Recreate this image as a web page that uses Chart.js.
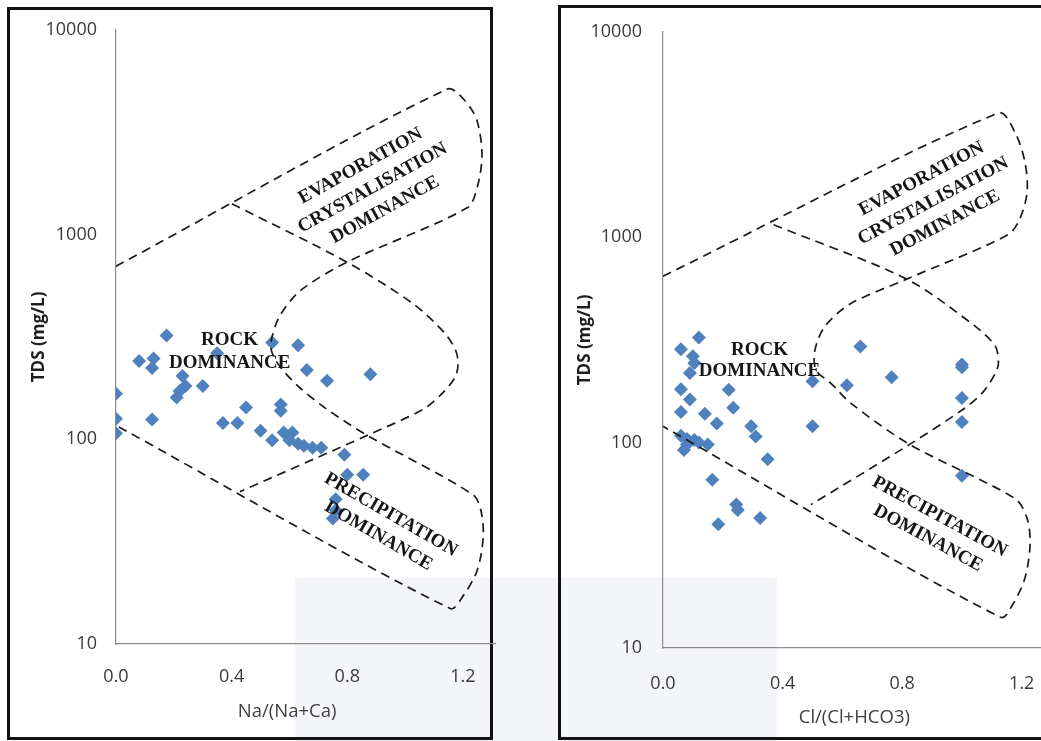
<!DOCTYPE html>
<html><head><meta charset="utf-8">
<script src="https://cdn.jsdelivr.net/npm/chart.js@4.4.1/dist/chart.umd.min.js"></script>
<style>
html,body{margin:0;padding:0;width:1041px;height:741px;overflow:hidden;background:#fff;}
#wm{position:absolute;left:295px;top:578px;width:482px;height:163px;background:#f4f5f9;}
.box{position:absolute;border:3px solid #111;box-sizing:border-box;}
#boxL{left:7px;top:7px;width:486px;height:733px;}
#boxR{left:558px;top:5px;width:520px;height:735px;}
#cL{position:absolute;left:0;top:0;}
#cR{position:absolute;left:520px;top:0;}
</style></head>
<body>
<div id="wm"></div>
<div class="box" id="boxL"></div>
<div class="box" id="boxR"></div>
<canvas id="cL" width="510" height="741" style="width:510px;height:741px"></canvas>
<canvas id="cR" width="540" height="741" style="width:540px;height:741px"></canvas>
<script>
// ---- data: left panel Na/(Na+Ca) vs TDS ----
const naRatio = [0.00,0.00,0.00,0.08,0.13,0.125,0.125,0.175,0.23,0.24,0.22,0.21,0.30,0.35,0.37,0.42,0.45,0.50,0.54,0.54,0.57,0.57,0.58,0.61,0.60,0.63,0.63,0.65,0.66,0.68,0.71,0.73,0.88,0.79,0.80,0.855,0.76,0.75,0.76];
const tdsNa   = [167,126,107,241,248,223,125,321,204,182,172,160,182,263,120,120,143,110,99,297,148,138,108,108,99,95,288,93,218,91,91,193,208,84,67,67,51,41,45];
// ---- data: right panel Cl/(Cl+HCO3) vs TDS ----
const clRatio = [0.06,0.12,0.10,0.105,0.09,0.06,0.09,0.22,0.06,0.14,0.235,0.18,0.295,0.31,0.06,0.08,0.105,0.07,0.15,0.35,0.165,0.245,0.25,0.185,0.325,0.50,0.50,0.615,0.66,0.765,1.0,1.0,1.0,1.0,1.0,0.08,0.12];
const tdsCl   = [285,325,263,244,218,182,162,181,141,138,148,124,120,107,108,98,103,92,98,83,66,50,47,40,43,199,120,190,294,208,240,233,165,126,69,104,100];
// ---- Gibbs boundary curves ----
const outerNaX = [0.0,1.145,1.208,1.249,1.266,1.249,1.215,0.799,0.637,0.567,0.540,0.536,0.550,0.585,0.637,0.730,0.869,1.235,1.263,1.270,1.249,1.201,1.156,0.0];
const outerNaY = [700,5130,4490,3590,2435,1687,1350,733,531,402,318,278,246,211,178,140,104.5,53.6,44.4,32.9,22.8,17.2,14.9,117];
const crossNaX = [0.401,0.799,1.028,1.138,1.176,1.183,1.173,1.131,1.062,0.869,0.429];
const crossNaY = [1412,733,459,329,269,230,201,169,140,104.5,55.5];
const outerClX = [0.0,1.122,1.178,1.211,1.218,1.195,1.155,0.815,0.627,0.541,0.508,0.512,0.561,0.627,0.825,1.178,1.218,1.228,1.211,1.172,1.129,0.0];
const outerClY = [646,4027,3224,2312,1658,1243,1030,625,474,367,281,225,195,156,98,53.3,42.7,32.0,22.0,16.5,14.1,120];
const crossClX = [0.370,0.815,1.046,1.112,1.122,1.112,1.069,1.003,0.825,0.495];
const crossClY = [1150,625,367,294,244,218,175,145,98,49.9];
// ---- ticks ----
const xTicks = [0, 0.4, 0.8, 1.2];
const yTicks = [10, 100, 1000, 10000];

const pts = (xs, ys) => xs.map((v, i) => ({x: v, y: ys[i]}));

const annotPlugin = {
  id: 'annot',
  afterDatasetsDraw(chart, args, opts) {
    const {ctx, scales: {x, y}, chartArea} = chart;
    ctx.save();
    for (const a of opts.items) {
      const px = x.getPixelForValue(a.x), py = y.getPixelForValue(a.y);
      ctx.save();
      ctx.translate(px, py);
      ctx.rotate(a.angle * Math.PI / 180);
      ctx.font = 'bold 19px "Liberation Serif", "Times New Roman", serif';
      ctx.fillStyle = '#161616';
      ctx.textAlign = 'center';
      ctx.textBaseline = 'middle';
      const n = a.lines.length;
      a.lines.forEach((t, i) => ctx.fillText(t, 0, (i - (n - 1) / 2) * a.lh));
      ctx.restore();
    }
    const t = opts.xTitle;
    ctx.font = '18.5px "Open Sans", sans-serif';
    ctx.fillStyle = '#404040';
    ctx.textAlign = 'center';
    ctx.textBaseline = 'middle';
    ctx.fillText(t.text, x.getPixelForValue(t.at), chartArea.bottom + t.below);
    ctx.restore();
  }
};

function makeChart(id, cfg) {
  return new Chart(document.getElementById(id), {
    type: 'scatter',
    data: {
      datasets: [
        {data: pts(cfg.outerX, cfg.outerY), showLine: true, pointRadius: 0, borderColor: '#1a1a1a', borderWidth: 1.7, borderDash: [9, 6], tension: 0.3, fill: false},
        {data: pts(cfg.crossX, cfg.crossY), showLine: true, pointRadius: 0, borderColor: '#1a1a1a', borderWidth: 1.7, borderDash: [9, 6], tension: 0.3, fill: false},
        {data: pts(cfg.px, cfg.py), pointStyle: 'rectRot', pointRadius: 7, pointHoverRadius: 7, backgroundColor: '#4F81BD', borderWidth: 0, showLine: false}
      ]
    },
    options: {
      responsive: false, animation: false,
      layout: {padding: {left: 0, top: cfg.top, right: cfg.right, bottom: 0}},
      plugins: {
        legend: {display: false}, tooltip: {enabled: false},
        annot: {items: cfg.items, xTitle: cfg.xTitle}
      },
      scales: {
        x: {
          type: 'linear', min: 0, max: cfg.xMax,
          afterBuildTicks: s => { s.ticks = xTicks.map(v => ({value: v})); },
          afterFit: s => { s.height = cfg.xH; },
          grid: {display: false, drawTicks: false},
          border: {display: true, color: '#8c8c8c', width: 1.2},
          ticks: {padding: cfg.xPad, color: '#3a3a3a', font: {family: '"Open Sans", sans-serif', size: 18}, callback: v => v.toFixed(1)}
        },
        y: {
          type: 'logarithmic', min: 10, max: 10000,
          afterBuildTicks: s => { s.ticks = yTicks.map(v => ({value: v})); },
          afterFit: s => { s.width = cfg.yW; },
          grid: {display: false, drawTicks: false},
          border: {display: true, color: '#8c8c8c', width: 1.2},
          ticks: {padding: cfg.yPad, color: '#3a3a3a', font: {family: '"Open Sans", sans-serif', size: 18}, callback: v => String(v)},
          title: {display: true, text: 'TDS (mg/L)', color: '#1e1e1e', font: {family: '"Open Sans", sans-serif', size: 17, weight: 'bold'}, padding: {top: cfg.yTitlePad, bottom: 0}}
        }
      }
    },
    plugins: [annotPlugin]
  });
}

makeChart('cL', {
  outerX: outerNaX, outerY: outerNaY, crossX: crossNaX, crossY: crossNaY,
  px: naRatio, py: tdsNa,
  top: 22, right: 15, xMax: 1.311, xH: 97, yW: 116, xPad: 22, yPad: 19, yTitlePad: 29,
  xTitle: {text: 'Na/(Na+Ca)', at: 0.592, below: 68},
  items: [
    {lines: ['ROCK', 'DOMINANCE'], x: 0.393, y: 267.6, angle: 0, lh: 23},
    {lines: ['EVAPORATION', 'CRYSTALISATION', 'DOMINANCE'], x: 0.888, y: 1687, angle: -29, lh: 25},
    {lines: ['PRECIPITATION', 'DOMINANCE'], x: 0.929, y: 38.0, angle: 30, lh: 24.5}
  ]
});

makeChart('cR', {
  outerX: outerClX, outerY: outerClY, crossX: crossClX, crossY: crossClY,
  px: clRatio, py: tdsCl,
  top: 25, right: 10, xMax: 1.277, xH: 93, yW: 143, xPad: 25, yPad: 21, yTitlePad: 55,
  xTitle: {text: 'Cl/(Cl+HCO3)', at: 0.640, below: 70},
  items: [
    {lines: ['ROCK', 'DOMINANCE'], x: 0.323, y: 250.5, angle: 0, lh: 21},
    {lines: ['EVAPORATION', 'CRYSTALISATION', 'DOMINANCE'], x: 0.904, y: 1500, angle: -28, lh: 25},
    {lines: ['PRECIPITATION', 'DOMINANCE'], x: 0.906, y: 38.6, angle: 28.5, lh: 24.5}
  ]
});
</script>
</body></html>
